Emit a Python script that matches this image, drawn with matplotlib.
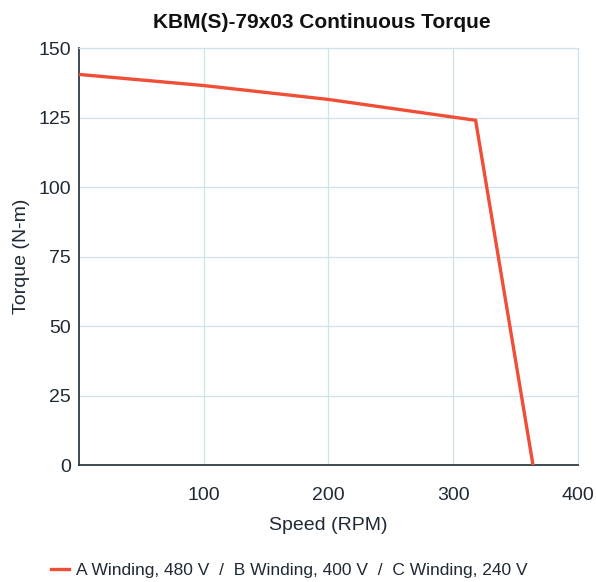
import matplotlib.pyplot as plt

# data
speed = [0, 100, 200, 318, 364]
torque = [140.5, 136.5, 131.5, 124, 0]
x_ticks = [100, 200, 300, 400]
y_ticks = [0, 25, 50, 75, 100, 125, 150]
legend_label = 'A Winding, 480 V  /  B Winding, 400 V  /  C Winding, 240 V'


def main():
    plt.rcParams['font.family'] = ['Liberation Sans', 'DejaVu Sans']
    text_color = '#1f2a36'
    line_color = '#f04e37'
    grid_color = '#cfe3ea'

    fig = plt.figure(figsize=(5.96, 5.82), dpi=100)
    ax = fig.add_axes([0.1326, 0.201, 0.837, 0.7165])

    ax.plot(speed, torque, color=line_color, linewidth=2.4, label=legend_label,
            solid_joinstyle='miter', zorder=3)

    ax.set_xlim(0, 400)
    ax.set_ylim(0, 150)
    ax.set_xticks(x_ticks)
    ax.set_yticks(y_ticks)
    ax.grid(True, color=grid_color, linewidth=0.9)
    ax.set_axisbelow(True)
    ax.tick_params(length=0, labelsize=14, colors=text_color)
    ax.tick_params(axis='x', pad=16)
    ax.tick_params(axis='y', pad=6)

    for side in ['top', 'right']:
        ax.spines[side].set_color(grid_color)
        ax.spines[side].set_linewidth(0.9)
    for side in ['left', 'bottom']:
        ax.spines[side].set_color('#2e3d46')
        ax.spines[side].set_linewidth(1.3)

    ax.set_xlabel('Speed (RPM)', fontsize=14, color=text_color, labelpad=9)
    ax.set_ylabel('Torque (N-m)', fontsize=14, color=text_color, labelpad=6)
    fig.suptitle('KBM(S)-79x03 Continuous Torque', fontsize=15, fontweight='bold',
                 color='#111111', x=0.54, y=0.978)

    fig.legend(loc='lower left', bbox_to_anchor=(0.06, -0.02), frameon=False,
               fontsize=12.5, handlelength=1.0, handletextpad=0.4,
               labelcolor=text_color)

    fig.savefig('out.png', dpi=100)


if __name__ == '__main__':
    main()
